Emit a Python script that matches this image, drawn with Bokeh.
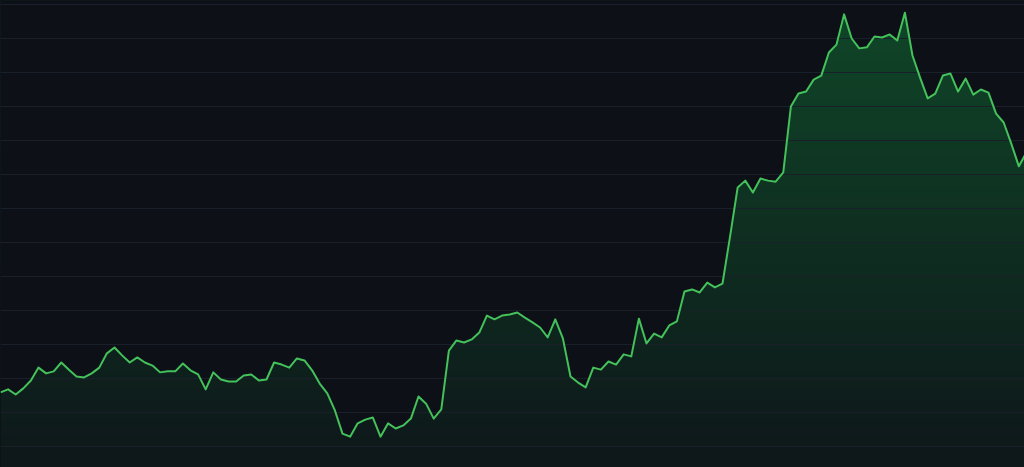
import numpy as np
from bokeh.plotting import figure
from bokeh.models import Range1d, FixedTicker
from bokeh.embed import file_html
from bokeh.resources import INLINE

# ---- data ----
values = [
    15.9, 16.8, 15.3, 17.1, 19.4, 23.2, 21.5, 22.1, 24.7, 22.6,
    20.6, 20.3, 21.5, 23.2, 27.4, 29.1, 26.8, 24.7, 26.2, 24.7,
    23.8, 21.8, 22.1, 22.1, 24.4, 22.4, 21.2, 16.8, 21.8, 19.7,
    19.1, 19.1, 20.9, 21.2, 19.4, 19.7, 24.7, 24.1, 23.2, 25.9,
    25.3, 22.4, 18.5, 15.6, 10.6, 3.8, 2.9, 6.8, 7.9, 8.5,
    2.9, 6.8, 5.3, 6.2, 8.2, 14.7, 12.6, 8.2, 10.9, 28.2,
    31.2, 30.6, 31.5, 33.5, 38.5, 37.4, 38.5, 38.8, 39.4, 37.9,
    36.5, 35.0, 32.1, 37.4, 31.8, 20.6, 18.8, 17.4, 23.2, 22.6,
    25.0, 24.1, 27.1, 26.5, 37.6, 30.3, 33.2, 32.1, 35.6, 36.8,
    45.6, 46.2, 45.3, 48.2, 46.8, 47.9, 61.8, 76.2, 78.2, 74.7,
    78.8, 78.2, 77.9, 80.6, 100.0, 103.8, 104.4, 107.9, 109.1, 115.9,
    118.2, 127.1, 120.0, 117.1, 117.4, 120.6, 120.3, 121.2, 119.4, 127.6,
    115.0, 108.5, 102.4, 103.8, 109.1, 109.7, 104.4, 108.2, 103.5, 105.0,
    104.1, 97.9, 95.3, 89.1, 82.4, 86.5,
]
x = list(range(len(values)))
grid_values = [0, 10, 20, 30, 40, 50, 60, 70, 80, 90, 100, 110, 120, 130]

# ---- styling ----
BG = "#0d1117"
LINE = "#44c15a"
GRID = "#1a2029"
W, H = 1024, 467
X_MAX = 134.74
Y_MIN, Y_MAX = -6.18, 131.18

p = figure(width=W, height=H, output_backend="svg", toolbar_location=None,
           x_range=Range1d(0, X_MAX), y_range=Range1d(Y_MIN, Y_MAX),
           min_border=0, background_fill_color=BG, border_fill_color=BG,
           outline_line_color=None)
p.axis.visible = False
p.xgrid.visible = False
p.ygrid.ticker = FixedTicker(ticks=grid_values)
p.ygrid.grid_line_color = GRID
p.ygrid.grid_line_width = 1

# vertical gradient for the area fill (bright at top, fading to bottom)
rows = 256
top_c = np.array([16, 70, 40], dtype=float)
bot_c = np.array([14, 23, 26], dtype=float)
vmax = max(values)
img = np.zeros((rows, 1), dtype=np.uint32)
view = img.view(dtype=np.uint8).reshape((rows, 1, 4))
for r in range(rows):
    yv = Y_MIN + (Y_MAX - Y_MIN) * r / (rows - 1)
    t = min(max((yv - Y_MIN) / (vmax - Y_MIN), 0.0), 1.0)
    c = bot_c + (top_c - bot_c) * t
    view[r, 0, 0] = int(c[0])
    view[r, 0, 1] = int(c[1])
    view[r, 0, 2] = int(c[2])
    view[r, 0, 3] = 255
p.image_rgba(image=[img], x=0, y=Y_MIN, dw=X_MAX, dh=Y_MAX - Y_MIN, level="image")

# mask above the line with the background colour
p.varea(x=x, y1=values, y2=[Y_MAX + 5] * len(values), fill_color=BG,
        fill_alpha=1.0, level="image")

# the line itself
p.line(x, values, line_color=LINE, line_width=2, line_join="round")

template = """{% block preamble %}<style>html,body{margin:0;padding:0;background:#0d1117;overflow:hidden}</style>{% endblock %}"""
open("out.html", "w").write(file_html(p, INLINE, template=template))
